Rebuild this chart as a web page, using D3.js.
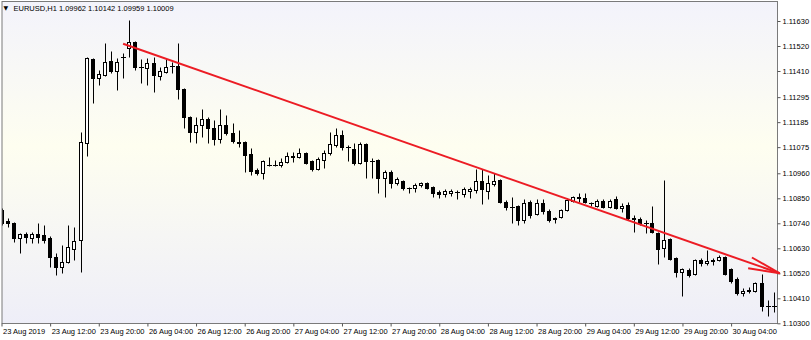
<!DOCTYPE html>
<html>
<head>
<meta charset="utf-8">
<script src="https://cdn.jsdelivr.net/npm/d3@7"></script>
<style>
  html, body { margin: 0; padding: 0; background: #fff; }
  svg { display: block; font-family: "Liberation Sans", Arial, sans-serif; }
</style>
</head>
<body>
<div id="chart"></div>
<script>
// Header of the chart window
const symbolTitle = "EURUSD,H1";
const headerValues = "1.09962 1.10142 1.09959 1.10009";

// Hourly bars, first one is 23 Aug 2019 04:00 (weekend hours skipped)
const open = [
  1.10799, 1.10750, 1.10741, 1.10675, 1.10693, 1.10675, 1.10693, 1.10689, 1.10675, 1.10592,
  1.10548, 1.10570, 1.10627, 1.10667, 1.11093, 1.11463, 1.11379, 1.11392, 1.11454, 1.11410,
  1.11472, 1.11511, 1.11538, 1.11428, 1.11423, 1.11445, 1.11388, 1.11406, 1.11430, 1.11432,
  1.11331, 1.11208, 1.11142, 1.11172, 1.11199, 1.11159, 1.11111, 1.11172, 1.11137, 1.11098,
  1.11098, 1.11045, 1.10974, 1.10961, 1.10998, 1.10996, 1.10996, 1.11010, 1.11032, 1.11032,
  1.11049, 1.11014, 1.10979, 1.11018, 1.11049, 1.11084, 1.11128, 1.11076, 1.11067, 1.11005,
  1.11089, 1.11014, 1.11018, 1.10939, 1.10966, 1.10917, 1.10926, 1.10895, 1.10894, 1.10908,
  1.10917, 1.10900, 1.10878, 1.10869, 1.10873, 1.10878, 1.10869, 1.10882, 1.10886, 1.10926,
  1.10882, 1.10913, 1.10930, 1.10834, 1.10812, 1.10816, 1.10754, 1.10834, 1.10781, 1.10829,
  1.10794, 1.10763, 1.10768, 1.10799, 1.10838, 1.10851, 1.10851, 1.10829, 1.10816, 1.10838,
  1.10812, 1.10847, 1.10807, 1.10820, 1.10763, 1.10761, 1.10741, 1.10740, 1.10697, 1.10631,
  1.10671, 1.10587, 1.10526, 1.10534, 1.10517, 1.10578, 1.10565, 1.10578, 1.10578, 1.10592,
  1.10539, 1.10495, 1.10433, 1.10442, 1.10442, 1.10477, 1.10376, 1.10378
];
const high = [
  1.10807, 1.10763, 1.10746, 1.10697, 1.10702, 1.10702, 1.10741, 1.10733, 1.10684, 1.10609,
  1.10644, 1.10733, 1.10724, 1.11142, 1.11472, 1.11467, 1.11414, 1.11533, 1.11498, 1.11467,
  1.11489, 1.11634, 1.11542, 1.11463, 1.11467, 1.11472, 1.11428, 1.11467, 1.11450, 1.11533,
  1.11335, 1.11212, 1.11208, 1.11243, 1.11208, 1.11194, 1.11243, 1.11216, 1.11181, 1.11150,
  1.11102, 1.11071, 1.10983, 1.11018, 1.11032, 1.11018, 1.11027, 1.11054, 1.11054, 1.11071,
  1.11054, 1.11018, 1.11032, 1.11062, 1.11142, 1.11159, 1.11150, 1.11084, 1.11093, 1.11098,
  1.11093, 1.11027, 1.11023, 1.10974, 1.10974, 1.10944, 1.10930, 1.10900, 1.10917, 1.10922,
  1.10922, 1.10904, 1.10886, 1.10891, 1.10891, 1.10886, 1.10900, 1.10900, 1.10979, 1.10979,
  1.10952, 1.10961, 1.10935, 1.10842, 1.10856, 1.10820, 1.10847, 1.10842, 1.10847, 1.10847,
  1.10803, 1.10768, 1.10803, 1.10851, 1.10860, 1.10873, 1.10873, 1.10834, 1.10847, 1.10847,
  1.10847, 1.10860, 1.10829, 1.10834, 1.10776, 1.10768, 1.10754, 1.10816, 1.10702, 1.10930,
  1.10675, 1.10592, 1.10543, 1.10543, 1.10583, 1.10587, 1.10622, 1.10587, 1.10600, 1.10596,
  1.10543, 1.10504, 1.10455, 1.10460, 1.10482, 1.10517, 1.10402, 1.10438
];
const low = [
  1.10733, 1.10724, 1.10658, 1.10609, 1.10653, 1.10653, 1.10653, 1.10653, 1.10548, 1.10512,
  1.10521, 1.10565, 1.10578, 1.10526, 1.11036, 1.11269, 1.11348, 1.11388, 1.11401, 1.11326,
  1.11379, 1.11472, 1.11414, 1.11357, 1.11348, 1.11318, 1.11370, 1.11401, 1.11401, 1.11287,
  1.11159, 1.11098, 1.11093, 1.11120, 1.11093, 1.11084, 1.11093, 1.11128, 1.11093, 1.11076,
  1.10966, 1.10952, 1.10952, 1.10935, 1.10992, 1.10992, 1.10988, 1.11005, 1.11010, 1.11027,
  1.11001, 1.10970, 1.10974, 1.10983, 1.11040, 1.11076, 1.11062, 1.11014, 1.10996, 1.11001,
  1.10939, 1.10939, 1.10873, 1.10856, 1.10895, 1.10908, 1.10886, 1.10873, 1.10878, 1.10900,
  1.10891, 1.10856, 1.10851, 1.10856, 1.10860, 1.10847, 1.10856, 1.10851, 1.10873, 1.10825,
  1.10847, 1.10904, 1.10829, 1.10799, 1.10741, 1.10733, 1.10741, 1.10763, 1.10776, 1.10781,
  1.10746, 1.10741, 1.10763, 1.10794, 1.10834, 1.10834, 1.10829, 1.10816, 1.10812, 1.10807,
  1.10807, 1.10803, 1.10790, 1.10754, 1.10702, 1.10733, 1.10697, 1.10697, 1.10561, 1.10592,
  1.10578, 1.10504, 1.10420, 1.10504, 1.10512, 1.10552, 1.10556, 1.10556, 1.10574, 1.10512,
  1.10477, 1.10424, 1.10420, 1.10433, 1.10438, 1.10354, 1.10332, 1.10350
];
const close = [
  1.10741, 1.10741, 1.10675, 1.10693, 1.10680, 1.10693, 1.10680, 1.10667, 1.10592, 1.10548,
  1.10570, 1.10636, 1.10662, 1.11098, 1.11467, 1.11379, 1.11397, 1.11450, 1.11410, 1.11450,
  1.11470, 1.11538, 1.11428, 1.11426, 1.11445, 1.11392, 1.11410, 1.11428, 1.11432, 1.11331,
  1.11208, 1.11142, 1.11172, 1.11199, 1.11159, 1.11111, 1.11172, 1.11137, 1.11102, 1.11093,
  1.11040, 1.10970, 1.10961, 1.11014, 1.10996, 1.10997, 1.11010, 1.11036, 1.11036, 1.11049,
  1.11005, 1.10979, 1.11023, 1.11049, 1.11089, 1.11128, 1.11076, 1.11075, 1.11005, 1.11089,
  1.11014, 1.11012, 1.10939, 1.10966, 1.10917, 1.10935, 1.10895, 1.10894, 1.10908, 1.10917,
  1.10895, 1.10873, 1.10869, 1.10882, 1.10882, 1.10877, 1.10891, 1.10891, 1.10926, 1.10891,
  1.10917, 1.10926, 1.10834, 1.10812, 1.10810, 1.10754, 1.10829, 1.10776, 1.10829, 1.10794,
  1.10754, 1.10761, 1.10799, 1.10842, 1.10856, 1.10856, 1.10834, 1.10830, 1.10838, 1.10812,
  1.10838, 1.10807, 1.10816, 1.10763, 1.10761, 1.10741, 1.10740, 1.10702, 1.10627, 1.10667,
  1.10583, 1.10526, 1.10539, 1.10512, 1.10578, 1.10565, 1.10574, 1.10576, 1.10592, 1.10517,
  1.10486, 1.10433, 1.10442, 1.10446, 1.10477, 1.10376, 1.10378, 1.10376
];

// Price scale labels (right side) and time labels (bottom)
const yTickLabels = ["1.11630", "1.11520", "1.11410", "1.11295", "1.11185", "1.11075",
  "1.10960", "1.10850", "1.10740", "1.10630", "1.10520", "1.10410", "1.10300"];
const xTickLabels = ["23 Aug 2019", "23 Aug 12:00", "23 Aug 20:00", "26 Aug 04:00",
  "26 Aug 12:00", "26 Aug 20:00", "27 Aug 04:00", "27 Aug 12:00", "27 Aug 20:00",
  "28 Aug 04:00", "28 Aug 12:00", "28 Aug 20:00", "29 Aug 04:00", "29 Aug 12:00",
  "29 Aug 20:00", "30 Aug 04:00"];

// Hand drawn trend line: bar index and price of both ends
const trendBars = [20, 128];
const trendPrices = [1.11530, 1.10520];

const width = 811, height = 340;
const plot = { left: 2, top: 1.5, right: 777.5, bottom: 323.5 };
const barSpacing = 6.08;

// bar times (trading hours only)
const times = [];
for (let t = Date.UTC(2019, 7, 23, 4); times.length < open.length; t += 3600e3) {
  const day = new Date(t).getUTCDay();
  if (day !== 0 && day !== 6) times.push(new Date(t));
}
const fmt = d3.utcFormat("%d Aug %H:%M");
const tickIdx = xTickLabels.map((lab, i) => i === 0 ? 0 : times.findIndex(t => fmt(t) === lab));

const bars = open.map((o, i) => ({ i, o, h: high[i], l: low[i], c: close[i] }));

const x = d3.scaleLinear()
  .domain([0, bars.length - 1])
  .range([1.5, 1.5 + (bars.length - 1) * barSpacing]);
const y = d3.scaleLinear().domain([1.10300, 1.11630]).range([323.3, 21]);

const svg = d3.select("#chart").append("svg")
  .attr("width", width)
  .attr("height", height);

const defs = svg.append("defs");
const grad = defs.append("linearGradient")
  .attr("id", "bg").attr("x1", 0).attr("y1", 0).attr("x2", 0).attr("y2", 1);
grad.append("stop").attr("offset", "0%").attr("stop-color", "#f3f3fb");
grad.append("stop").attr("offset", "45%").attr("stop-color", "#fefef0");
grad.append("stop").attr("offset", "100%").attr("stop-color", "#eeeef8");

defs.append("clipPath").attr("id", "clip")
  .append("rect")
  .attr("x", plot.left).attr("y", plot.top)
  .attr("width", plot.right - plot.left).attr("height", plot.bottom - plot.top);

// background of the chart area
svg.append("rect")
  .attr("x", plot.left).attr("y", plot.top)
  .attr("width", plot.right - plot.left).attr("height", plot.bottom - plot.top)
  .attr("fill", "url(#bg)");

// Candles
const candles = svg.append("g").attr("clip-path", "url(#clip)");
bars.forEach(d => {
  const cx = Math.round(x(d.i)) + 0.5;
  candles.append("line")
    .attr("x1", cx).attr("x2", cx)
    .attr("y1", Math.round(y(d.h)) + 0.5)
    .attr("y2", Math.round(y(d.l)) + 0.5)
    .attr("stroke", "#000")
    .attr("stroke-width", 1);

  const yTop = Math.round(y(Math.max(d.o, d.c))) + 0.5;
  const yBot = Math.round(y(Math.min(d.o, d.c))) + 0.5;
  if (yBot - yTop < 1) {
    // doji: just a dash
    candles.append("line")
      .attr("x1", cx - 2.5).attr("x2", cx + 2.5)
      .attr("y1", yTop).attr("y2", yTop)
      .attr("stroke", "#000");
  } else {
    candles.append("rect")
      .attr("x", cx - 2)
      .attr("y", yTop)
      .attr("width", 3)
      .attr("height", yBot - yTop)
      .attr("fill", d.c >= d.o ? "#fff" : "#000")
      .attr("stroke", "#000")
      .attr("stroke-width", 1);
  }
});

// frame
svg.append("rect")
  .attr("x", plot.left).attr("y", plot.top)
  .attr("width", plot.right - plot.left).attr("height", plot.bottom - plot.top)
  .attr("fill", "none")
  .attr("stroke", "#7a7a7a");

// Right price axis
const yAxis = svg.append("g")
  .attr("transform", `translate(${plot.right},0)`)
  .call(d3.axisRight(y)
    .tickValues(yTickLabels.map(Number))
    .tickFormat((d, i) => yTickLabels[i])
    .tickSize(3)
    .tickPadding(2));
yAxis.select(".domain").remove();
yAxis.selectAll("line").attr("stroke", "#555");
yAxis.selectAll("text")
  .attr("font-family", "Liberation Sans, Arial, sans-serif")
  .attr("font-size", 7.5)
  .attr("fill", "#000");

// Bottom time axis
const xAxis = svg.append("g")
  .attr("transform", `translate(0,${plot.bottom})`)
  .call(d3.axisBottom(x)
    .tickValues(tickIdx)
    .tickFormat((d, i) => xTickLabels[i])
    .tickSize(3)
    .tickPadding(2));
xAxis.select(".domain").remove();
xAxis.selectAll("line").attr("stroke", "#555");
xAxis.selectAll("text")
  .attr("text-anchor", "start")
  .attr("x", 1)
  .attr("font-family", "Liberation Sans, Arial, sans-serif")
  .attr("font-size", 7.5)
  .attr("fill", "#000");

// Trend line with arrow head
const x1 = x(trendBars[0]), y1 = y(trendPrices[0]);
const x2 = x(trendBars[1]), y2 = y(trendPrices[1]);
svg.append("line")
  .attr("x1", x1).attr("y1", y1).attr("x2", x2).attr("y2", y2)
  .attr("stroke", "#ec1c24")
  .attr("stroke-width", 2);
const ang = Math.atan2(y2 - y1, x2 - x1);
[-0.18, 0.18].forEach(a => {
  svg.append("line")
    .attr("x1", x2).attr("y1", y2)
    .attr("x2", x2 - 32 * Math.cos(ang + a))
    .attr("y2", y2 - 32 * Math.sin(ang + a))
    .attr("stroke", "#ec1c24")
    .attr("stroke-width", 2);
});

// Title bar
svg.append("text")
  .attr("x", 3.5).attr("y", 10)
  .attr("font-size", 6)
  .attr("font-family", "DejaVu Sans, sans-serif")
  .text("▼");
svg.append("text")
  .attr("x", 13.5).attr("y", 10.5)
  .attr("font-size", 7.5)
  .text(symbolTitle + "  " + headerValues);
</script>
</body>
</html>
